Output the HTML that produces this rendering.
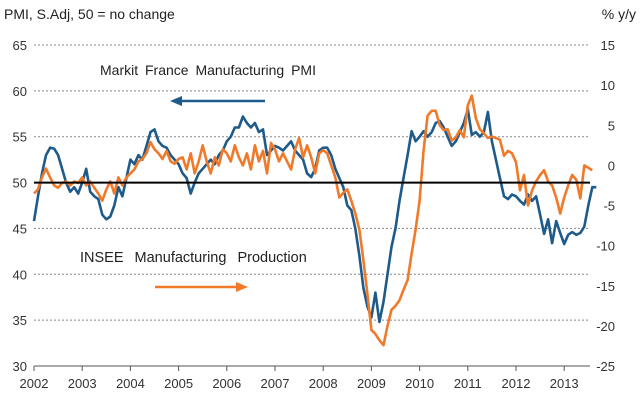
<!DOCTYPE html>
<html><head><meta charset="utf-8"><style>
body{margin:0;background:#fff;width:640px;height:400px;overflow:hidden}
svg{display:block;font-family:"Liberation Sans",sans-serif}
</style></head><body>
<svg id="c" width="640" height="400">
<text x="4" y="19" font-size="14" fill="#222">PMI, S.Adj, 50 = no change</text>
<text x="636" y="19" font-size="14" fill="#222" text-anchor="end">% y/y</text>
<g id="grid"></g>
<g id="axes"></g>
<g id="series"></g>
<text x="100" y="75" font-size="14" fill="#222" word-spacing="3">Markit France Manufacturing PMI</text>
<g><line x1="265" y1="101" x2="178" y2="101" stroke="#1f5b8a" stroke-width="2.5"/><polygon points="170,101 182,96 182,106" fill="#1f5b8a"/></g>
<rect x="70" y="243" width="262" height="24" fill="#fff"/>
<text x="80" y="262" font-size="14.5" fill="#222" word-spacing="7">INSEE Manufacturing Production</text>
<g><line x1="155" y1="287" x2="240" y2="287" stroke="#f07a2a" stroke-width="2.5"/><polygon points="248,287 236,282 236,292" fill="#f07a2a"/></g>
</svg>
<script>
const leftTicks=[65,60,55,50,45,40,35,30];
const rightTicks=[15,10,5,0,-5,-10,-15,-20,-25];
const years=[2002,2003,2004,2005,2006,2007,2008,2009,2010,2011,2012,2013];
const pmi=[45.8,48.5,51,53,53.8,53.7,53,51.5,50,49,49.5,48.8,
50,51.5,49,48.5,48.2,46.5,46,46.3,47.5,49.5,48.5,50.5,
52.5,52,53,52.5,54,55.5,55.8,54.5,54,53.8,53,52.5,
52,51,50.5,48.8,50,51,51.5,52,52.5,52,53,53.5,
54.5,55,56,56,57.2,56.5,56,56.5,55.5,55.8,53,53.5,
54,53.8,53.5,54,54.5,53.5,53,52.5,51,50.6,51.5,53.5,
53.8,53.8,53,51.5,50.5,49.5,47.5,47,45,42,38.5,36.5,
35.3,38,34.8,37,40,43,45,48,50.5,53,55.6,54.5,
55,55.6,55,55.5,56.5,56.7,56,55,54,54.5,55.5,56.5,
58,55.2,55.5,55,55.5,57.7,54.5,52.5,50.5,48.5,48.2,48.7,
48.5,48,47.6,48.7,48,48.5,46.5,44.4,46,43.4,45.8,44.5,
43.3,44.3,44.6,44.3,44.5,45.2,47.5,49.5,49.5];
const insee=[-3.5,-3,-1.5,-0.4,-1.5,-2.5,-2.8,-2.2,-2,-2.5,-2,-2.2,
-1.5,-2.5,-2,-2.8,-3.5,-4.4,-3,-2,-3.5,-1.5,-2.5,-1.5,
-1,-0.5,0.5,0.8,1.5,2.9,2,1.5,0.8,1.8,0.5,0.2,
0.8,1,-0.5,1.5,-1,0.5,2.5,0.5,-1,1,0,2,
1.5,0.5,2.5,1,0,1.5,-0.5,2.5,0.5,1.8,-1,2.8,
2,0.5,1.5,0.5,-0.5,2,3.4,1,2.5,1,-1,1.5,
1.9,1.5,0,-1.5,-4,-3.4,-3,-4.4,-6,-8,-11.8,-16,
-20.5,-21,-21.8,-22.4,-20,-18,-17.5,-16.8,-15.5,-14.3,-11,-8,
-4.4,1.9,6.2,6.8,6.8,5,4.4,4.5,3.1,3.5,4.4,3.5,
7.5,8.7,5.9,4.5,4,3.4,3.6,3.4,3.2,1.2,1.8,1.5,
0.4,-3.1,-1.2,-5,-3.1,-2,-1.2,-0.6,-2,-2.5,-4,-6,
-4,-2.5,-1.2,-1.8,-4.1,0,-0.3,-0.6];
const X0=34,XL=590,T=45,B=366;
const xs=t=>X0+(t-2002)*48.2;
const yl=v=>T+(65-v)*(B-T)/35;
const yr=v=>T+(15-v)*(B-T)/40;
const NS="http://www.w3.org/2000/svg";
function mk(tag,attrs,parent){const e=document.createElementNS(NS,tag);for(const k in attrs)e.setAttribute(k,attrs[k]);parent.appendChild(e);return e;}
const grid=document.getElementById('grid'),axes=document.getElementById('axes'),ser=document.getElementById('series');
leftTicks.forEach(v=>{
 if(v!==50&&v!==30){const l=mk('line',{x1:X0,x2:XL,y1:yl(v),y2:yl(v),stroke:'#888','stroke-width':1,'stroke-dasharray':'2,2'},grid);
 
 }
 const t=mk('text',{x:27,y:yl(v)+5,'font-size':13,'text-anchor':'end',fill:'#333'},axes);t.textContent=v;
 
 
});
rightTicks.forEach(v=>{
 const t=mk('text',{x:615,y:yr(v)+5,'font-size':13,'text-anchor':'end',fill:'#333'},axes);t.textContent=v;
 
 
});
const ax=mk('line',{x1:X0,x2:XL,y1:B,y2:B,stroke:'#555','stroke-width':1},axes);


years.forEach(y=>{
 mk('line',{x1:xs(y),x2:xs(y),y1:B,y2:B+5,stroke:'#555'},axes);
 const t=mk('text',{x:xs(y),y:388,'font-size':13,'text-anchor':'middle',fill:'#333'},axes);t.textContent=y;
 
 
});
const pathOf=(arr,yf)=>arr.map((v,i)=>(i?'L':'M')+xs(2002+i/12).toFixed(1)+','+yf(v).toFixed(1)).join('');
const pb=mk('path',{d:pathOf(pmi,yl),fill:'none',stroke:'#1f5b8a','stroke-width':2.6,'stroke-linejoin':'round'},ser);


const po=mk('path',{d:pathOf(insee,yr),fill:'none',stroke:'#f07a2a','stroke-width':2.6,'stroke-linejoin':'round'},ser);


const zl=mk('line',{x1:X0,x2:XL,y1:yl(50),y2:yl(50),stroke:'#000','stroke-width':2},ser);


</script>
</body></html>
